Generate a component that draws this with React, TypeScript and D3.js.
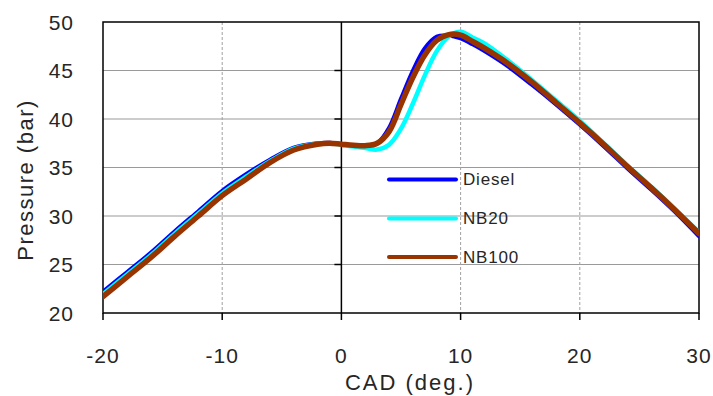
import React from "react";
import * as d3 from "d3";

const cad = [-20, -18, -16, -14, -12, -10, -8, -6, -4, -2, -1, 0, 1, 2, 3, 4, 5, 6, 7, 8, 9, 10, 11, 12, 14, 16, 18, 20, 22, 24, 26, 28, 30];
const diesel = [22.2, 24.2, 26.2, 28.4, 30.5, 32.6, 34.3, 35.8, 37.05, 37.5, 37.55, 37.4, 37.25, 37.2, 37.5, 39.1, 42.1, 45.0, 47.3, 48.5, 48.6, 48.3, 47.7, 47.0, 45.4, 43.5, 41.5, 39.4, 37.2, 34.9, 32.7, 30.4, 27.9];
const nb20 = [21.95, 23.95, 25.95, 28.15, 30.25, 32.35, 34.05, 35.65, 36.95, 37.45, 37.5, 37.35, 37.15, 37.0, 36.85, 37.35, 39.0, 41.6, 44.5, 47.0, 48.5, 49.0, 48.4, 47.8, 46.0, 44.0, 41.9, 39.8, 37.5, 35.2, 33.0, 30.7, 28.3];
const nb100 = [21.7, 23.7, 25.7, 27.9, 30.0, 32.1, 33.8, 35.5, 36.8, 37.4, 37.5, 37.4, 37.3, 37.25, 37.5, 38.7, 41.5, 44.3, 46.6, 48.1, 48.7, 48.65, 48.0, 47.3, 45.7, 43.8, 41.7, 39.6, 37.4, 35.1, 32.9, 30.6, 28.2];

const seriesNames = ["Diesel", "NB20", "NB100"];
const seriesValues = [diesel, nb20, nb100];
const seriesColors = ["#0000ff", "#00ffff", "#993300"];
const seriesWidths = [4, 4.5, 5.5];

const xTicks = [-20, -10, 0, 10, 20, 30];
const yTicks = [20, 25, 30, 35, 40, 45, 50];

const W = 713, H = 396;
const L = 103, R = 699, T = 22, B = 313;
const FONT = "'Liberation Sans', Arial, sans-serif";
const TXT = "#262626";

export default function App() {
  const x = d3.scaleLinear().domain([-20, 30]).range([L, R]);
  const y = d3.scaleLinear().domain([20, 50]).range([B, T]);
  const line = d3.line<number>()
    .x((_, i) => x(cad[i]))
    .y((v) => y(v))
    .curve(d3.curveCatmullRom.alpha(0.5));

  const x0 = x(0);
  return (
    <svg width={W} height={H} style={{ position: "absolute", left: 0, top: 0, background: "#fff" }}>
      <defs>
        <clipPath id="plot">
          <rect x={L} y={T} width={R - L} height={B - T} />
        </clipPath>
      </defs>
      {yTicks.filter((t) => t > 20 && t < 50).map((t) => (
        <line key={"hg" + t} x1={L} x2={R} y1={y(t)} y2={y(t)} stroke="#9a9a9a" strokeWidth={1.2} />
      ))}
      {xTicks.filter((t) => t !== 0 && t > -20 && t < 30).map((t) => (
        <line key={"vg" + t} x1={x(t)} x2={x(t)} y1={T} y2={B} stroke="#a0a0a0" strokeWidth={1} strokeDasharray="3,2" />
      ))}
      <line x1={x0} x2={x0} y1={T} y2={B} stroke="#000" strokeWidth={1.5} />
      {yTicks.filter((t) => t > 20 && t < 50).map((t) => (
        <line key={"yt" + t} x1={x0 - 7} x2={x0} y1={y(t)} y2={y(t)} stroke="#000" strokeWidth={1.5} />
      ))}
      <rect x={L} y={T} width={R - L} height={B - T} fill="none" stroke="#000" strokeWidth={1.5} />
      {xTicks.map((t) => (
        <line key={"xt" + t} x1={x(t)} x2={x(t)} y1={B} y2={B + 7} stroke="#000" strokeWidth={1.5} />
      ))}
      <g clipPath="url(#plot)">
        {seriesValues.map((vals, i) => (
          <path key={seriesNames[i]} d={line(vals) || ""} fill="none" stroke={seriesColors[i]} strokeWidth={seriesWidths[i]} strokeLinejoin="round" strokeLinecap="round" />
        ))}
      </g>
      {seriesNames.map((n, i) => {
        const ly = [179.5, 218.5, 257][i];
        return (
          <g key={"lg" + n}>
            <line x1={389} x2={456} y1={ly} y2={ly} stroke={seriesColors[i]} strokeWidth={4} strokeLinecap="round" />
            <text x={463} y={ly + 5.5} fontFamily={FONT} fontSize={17} letterSpacing={0.8} fill={TXT}>{n}</text>
          </g>
        );
      })}
      {yTicks.map((t) => (
        <text key={"yl" + t} x={74} y={y(t) + 7.5} textAnchor="end" fontFamily={FONT} fontSize={21} letterSpacing={1} fill={TXT}>{t}</text>
      ))}
      {xTicks.map((t) => (
        <text key={"xl" + t} x={x(t)} y={363} textAnchor="middle" fontFamily={FONT} fontSize={21} letterSpacing={1} fill={TXT}>{t}</text>
      ))}
      <text x={410} y={390} textAnchor="middle" fontFamily={FONT} fontSize={22} letterSpacing={2} fill={TXT}>CAD (deg.)</text>
      <text transform={`translate(33,180) rotate(-90)`} textAnchor="middle" fontFamily={FONT} fontSize={22} letterSpacing={1.5} fill={TXT}>Pressure (bar)</text>
    </svg>
  );
}
